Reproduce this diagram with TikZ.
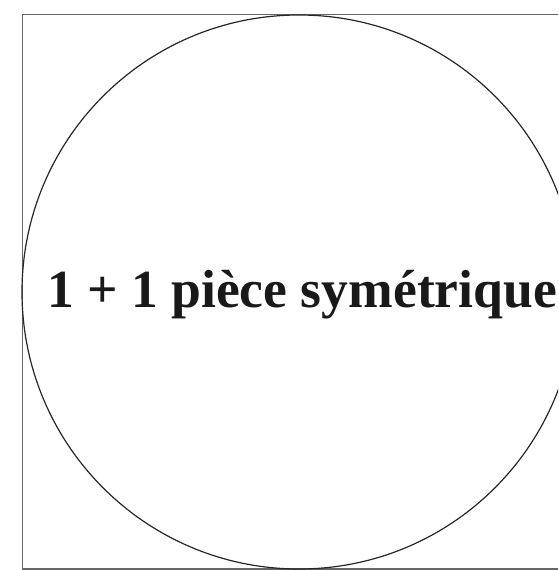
\documentclass[tikz,border=0pt]{standalone}
\usepackage{fontspec}
\setmainfont{Liberation Serif}
\begin{document}
\begin{tikzpicture}[x=1pt,y=1pt,
  frame/.style={draw=black!60,line width=1.5pt},
  ring/.style={draw=black!85,line width=1.2pt},
  label/.style={font=\fontsize{53.6}{60}\selectfont\bfseries,text=black!90,inner sep=0pt,anchor=base}]
\useasboundingbox (0,0) rectangle (558,570);
\clip (0,0) rectangle (558,570);
\draw[frame] (22.5,555.5) rectangle (620,1);
\node[ring,circle,minimum size=554pt,inner sep=0pt] (c) at (299,278) {};
\node[label] (t) at (302,262) {1 + 1 pièce symétrique};
\end{tikzpicture}
\end{document}
